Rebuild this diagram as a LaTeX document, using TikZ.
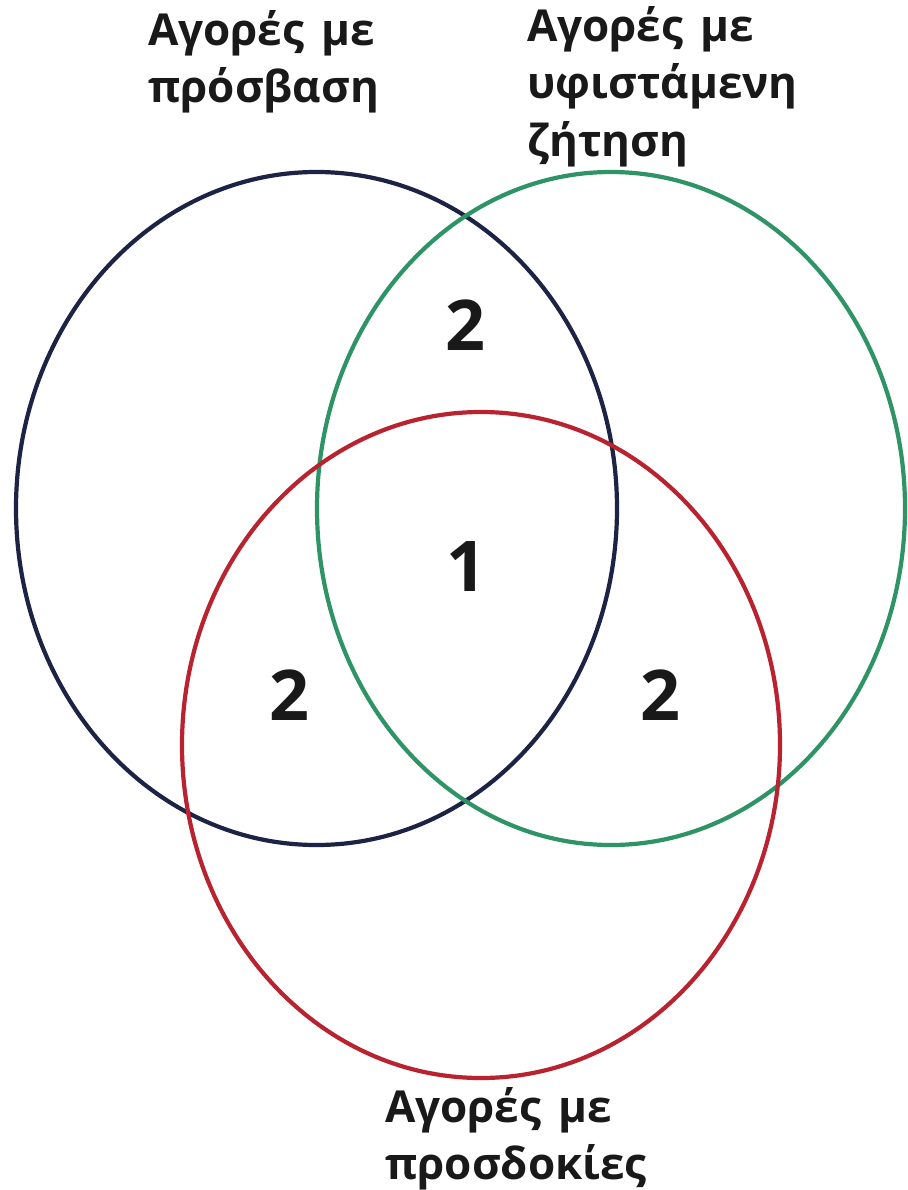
\documentclass[tikz,border=0pt]{standalone}
\usepackage{fontspec}
\setmainfont{Open Sans}[WordSpace=1.5]
\begin{document}
\begin{tikzpicture}[x=1pt,y=1pt,
  ring/.style={line width=4.2pt},
  lbl/.style={anchor=base west,inner sep=0pt,font=\bfseries\fontsize{44}{50}\selectfont,text=black!90},
  num/.style={anchor=base,inner sep=0pt,font=\bfseries\fontsize{70}{74}\selectfont,text=black!90}]
\definecolor{navy}{HTML}{1C2344}
\definecolor{vgreen}{HTML}{2E9466}
\definecolor{vred}{HTML}{B8232F}
\useasboundingbox[fill=white] (0,0) rectangle (907,-1190);
\draw[ring,navy] (316.5,-508.5) ellipse [x radius=300.5, y radius=336.5];
\draw[ring,vgreen] (611,-508.5) ellipse [x radius=294, y radius=336.5];
\draw[ring,vred] (481,-745) ellipse [x radius=299, y radius=333];
\node[lbl] (a1) at (148,-46) {Αγορές με};
\node[lbl] (a2) at (148,-103) {πρόσβαση};
\node[lbl] (b1) at (527,-42) {Αγορές με};
\node[lbl] (b2) at (527,-99) {υφιστάμενη};
\node[lbl] (b3) at (527,-157) {ζήτηση};
\node[lbl] (c1) at (385,-1122) {Αγορές με};
\node[lbl] (c2) at (385,-1179) {προσδοκίες};
\node[num] (n1) at (465,-350) {2};
\node[num] (n2) at (466,-591) {1};
\node[num] (n3) at (289,-720) {2};
\node[num] (n4) at (660,-720) {2};
\end{tikzpicture}
\end{document}
